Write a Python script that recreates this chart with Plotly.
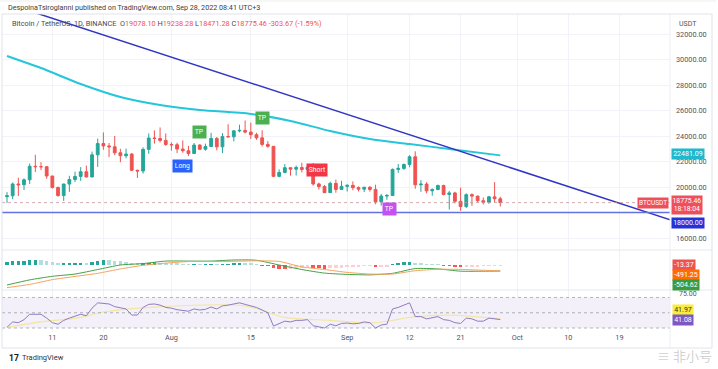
import plotly.graph_objects as go
import pandas as pd

# ---------------- data ----------------
dates = pd.date_range("2022-07-03", "2022-09-28", freq="D")

opens = [19243, 19315, 20236, 20175, 20564, 21624, 21594, 21591, 20862, 19963,
         19328, 20234, 20588, 20830, 21196, 20785, 22525, 23410, 23223, 23155,
         22684, 22451, 22580, 21310, 21254, 22952, 23843, 23804, 23656,
         23336, 23314, 22978, 22846, 22630, 23290, 22961, 23175, 23810, 23149,
         23954, 23934, 24403, 24441, 24305, 24101, 23854, 23342, 23191, 20834,
         21140, 21515, 21399, 21529, 21368, 21560, 20241, 20037, 19555, 20285, 19811,
         20050, 20131, 19951, 19832, 19986, 19812, 18837, 19290, 19329, 21381,
         21460, 21769, 22371, 20173, 20226, 19701, 19803, 20113, 19417, 19537,
         18876, 18461, 19401, 19289, 18920, 18807, 19227, 19078.10]
highs = [19600, 20350, 20730, 20675, 21840, 22530, 21950, 21600, 20870, 20040,
         20250, 20880, 21200, 21560, 21680, 22780, 23800, 24280, 23450, 24000,
         22990, 23010, 22670, 21360, 23110, 24200, 24440, 24670, 24200,
         23500, 23470, 23650, 23230, 23450, 23360, 23400, 24250, 23920, 24230,
         24920, 24450, 24890, 25210, 25050, 24250, 24450, 23600, 23200, 21380,
         21800, 21520, 21680, 21900, 21820, 21880, 20340, 20150, 20420, 20580, 20490,
         20200, 20440, 20050, 20000, 20060, 20180, 19460, 19450, 21450, 21800,
         21840, 22490, 22800, 20540, 20380, 19890, 20190, 20180, 19690, 19630,
         19950, 19500, 19500, 19310, 19180, 19310, 20380, 19238.28]
lows = [18750, 19040, 19300, 19760, 20240, 21180, 21320, 20650, 19880, 19240,
        18910, 19620, 20380, 20480, 20760, 20770, 21580, 22920, 22340, 22500,
        21940, 22250, 21250, 20710, 21050, 22600, 23400, 23500, 23230,
        22850, 22670, 22690, 22430, 22590, 22900, 22850, 23150, 22880, 22660,
        23900, 23580, 24290, 24200, 23770, 23700, 23180, 23080, 20780, 20760,
        21070, 20890, 20900, 21150, 21310, 20100, 19800, 19600, 19550, 19550, 19800,
        19650, 19750, 19650, 19600, 19640, 18650, 18540, 19000, 19300, 21110,
        21350, 21550, 19860, 19620, 19500, 19320, 19750, 19350, 18230, 18710,
        18130, 18360, 18530, 18800, 18630, 18680, 18810, 18471.28]
closes = [19315, 20236, 20175, 20564, 21624, 21594, 21591, 20862, 19963, 19328,
          20234, 20588, 20830, 21196, 20785, 22525, 23410, 23223, 23155, 22684,
          22451, 22580, 21310, 21254, 22952, 23843, 23804, 23656, 23336,
          23314, 22978, 22846, 22630, 23290, 22961, 23175, 23810, 23149, 23954,
          23934, 24403, 24441, 24305, 24101, 23854, 23342, 23191, 20834, 21140,
          21515, 21399, 21529, 21368, 21560, 20241, 20037, 19555, 20285, 19811, 20050,
          20131, 19951, 19832, 19986, 19812, 18837, 19290, 19329, 21381, 21460,
          21769, 22371, 20173, 20226, 19701, 19803, 20113, 19417, 19537, 18876,
          18461, 19401, 19289, 18920, 18807, 19227, 19078.10, 18775.46]

# moving average (teal) – read at sample days
ma_idx = [0, 6, 13, 20, 27, 34, 43, 50, 57, 64, 71, 78, 87]
ma_val = [30270, 29330, 28080, 27060, 26430, 26040, 25730, 25180, 24390, 23760, 23370, 22980, 22481.09]

# drawn trend line (two anchor points)
trend_dates = ["2022-07-03", "2022-10-28"]
trend_vals = [34390, 17423]

hline_level = 18000.00
last_price = 18775.46

# MACD
macd_hist = [250, 300, 320, 340, 390, 420, 400, 330, 240, 150,
             160, 180, 190, 210, 180, 260, 350, 390, 380, 370,
             330, 290, 200, 130, 150, 200, 220, 200, 170, 140,
             100, 70, 40, 45, 30, 30, 50, 40, 60, 80,
             110, 130, 120, 90, 50, -20, -60, -220, -300, -320,
             -300, -260, -220, -180, -230, -270, -300, -280, -250, -210,
             -170, -140, -110, -80, -70, -130, -120, -90, 60, 150,
             230, 290, 180, 120, 70, 40, 30, -10, -60, -110,
             -150, -120, -100, -90, -80, -50, -30, -13.37]
macd_idx = [0, 4, 8, 12, 16, 20, 24, 28, 32, 36, 40, 44, 48, 52, 56, 60, 64, 68, 72, 76, 80, 84, 87]
macd_line = [-1680, -1250, -950, -760, -380, 0, 120, 330, 330, 330, 420, 400, 0, -380, -680, -790, -830, -700, -300, -330, -520, -520, -504.62]
signal_line = [-1900, -1630, -1230, -960, -700, -330, -30, 160, 290, 290, 310, 350, 300, -160, -380, -620, -760, -760, -480, -360, -370, -440, -491.25]

# RSI
rsi_vals = [31, 38, 37, 41, 48, 48, 48, 43, 37, 35,
            40, 43, 45, 48, 46, 56, 63, 62, 61.5, 58,
            56, 55, 47, 47, 57, 61, 61.5, 60, 57, 56,
            54, 53, 52, 55, 53.6, 54.5, 57.5, 55, 59, 60,
            62, 63, 61, 59, 57, 53.6, 50, 32.6, 36, 39,
            38, 40, 40, 41, 33, 31, 30, 35, 33, 36,
            36.5, 35.5, 36, 38, 37, 30, 34, 35, 55, 57,
            60, 63, 45, 45, 42, 44, 45, 41, 40, 37,
            36, 43, 42, 39, 39, 43, 42, 41.08]
rsi_ma_idx = [0, 6, 13, 17, 26, 42, 49, 57, 64, 68, 71, 78, 87]
rsi_ma_vals = [31, 38, 44, 51, 57.5, 59, 44, 40, 36.5, 40, 44, 47, 41.97]

# signal badges
sig_dates = ["2022-08-03", "2022-08-06", "2022-08-17", "2022-08-26 18:00", "2022-09-08 12:00"]
sig_prices = [21650, 24314, 25412, 21333, 18275]
sig_text = ["Long", "TP", "TP", "Short", "TP"]
sig_color = ["#2962ff", "#4caf50", "#4caf50", "#f23645", "#c451f2"]

x_tick_dates = ["2022-07-11", "2022-07-20", "2022-08-01", "2022-08-15", "2022-09-01",
                "2022-09-12", "2022-09-21", "2022-10-01", "2022-10-10", "2022-10-19"]
x_tick_text = ["11", "20", "Aug", "15", "Sep", "12", "21", "Oct", "10", "19"]
y_ticks = [16000, 20000, 22000, 24000, 26000, 28000, 30000, 32000]

# ---------------- layout geometry ----------------
W, H = 718, 369
L, R, T, B = 2, 48, 14, 37
PW, PH = W - L - R, H - T - B


def pxx(x):
    return (x - L) / PW


def pxy(y):
    return (H - B - y) / PH


main_dom = [pxy(250), 1]
macd_dom = [pxy(290), pxy(250)]
rsi_dom = [0, pxy(290)]

x0 = dates[0] - pd.Timedelta(hours=0.88 * 24)
x1 = dates[0] + pd.Timedelta(hours=116.93 * 24)

FONT = "Roboto, Liberation Sans, Arial"
GRID = "#f1f3f8"
AXC = "#50535e"

fig = go.Figure()

# candles
fig.add_trace(go.Candlestick(
    x=dates, open=opens, high=highs, low=lows, close=closes,
    increasing=dict(line=dict(color="#26a69a", width=1), fillcolor="#26a69a"),
    decreasing=dict(line=dict(color="#ef5350", width=1), fillcolor="#ef5350"),
    whiskerwidth=0, showlegend=False, hoverinfo="skip", xaxis="x", yaxis="y"))

# moving average
fig.add_trace(go.Scatter(
    x=[dates[i] for i in ma_idx], y=ma_val, mode="lines",
    line=dict(color="#26c6da", width=2, shape="spline", smoothing=0.8),
    showlegend=False, hoverinfo="skip", xaxis="x", yaxis="y"))

# trend line
fig.add_trace(go.Scatter(
    x=trend_dates, y=trend_vals, mode="lines",
    line=dict(color="#3035c4", width=1.5),
    showlegend=False, hoverinfo="skip", xaxis="x", yaxis="y"))

# MACD histogram colours
hist_colors = []
for i, v in enumerate(macd_hist):
    prev = macd_hist[i - 1] if i > 0 else v
    if v >= 0:
        hist_colors.append("#26a69a" if v >= prev else "#b2dfdb")
    else:
        hist_colors.append("#ffcdd2" if v >= prev else "#ff5252")

fig.add_trace(go.Bar(
    x=dates, y=macd_hist, marker=dict(color=hist_colors, line=dict(width=0)),
    width=0.62 * 86400000, showlegend=False, hoverinfo="skip", xaxis="x", yaxis="y2"))
fig.add_trace(go.Scatter(
    x=[dates[i] for i in macd_idx], y=macd_line, mode="lines",
    line=dict(color="#43a047", width=1, shape="spline", smoothing=0.6),
    showlegend=False, hoverinfo="skip", xaxis="x", yaxis="y2"))
fig.add_trace(go.Scatter(
    x=[dates[i] for i in macd_idx], y=signal_line, mode="lines",
    line=dict(color="#f5a35c", width=1, shape="spline", smoothing=0.6),
    showlegend=False, hoverinfo="skip", xaxis="x", yaxis="y2"))

# RSI
fig.add_trace(go.Scatter(
    x=[dates[i] for i in rsi_ma_idx], y=rsi_ma_vals, mode="lines",
    line=dict(color="#f3e6a0", width=1.2, shape="spline", smoothing=0.8),
    showlegend=False, hoverinfo="skip", xaxis="x", yaxis="y3"))
fig.add_trace(go.Scatter(
    x=dates, y=rsi_vals, mode="lines",
    line=dict(color="#8e7cc3", width=1),
    showlegend=False, hoverinfo="skip", xaxis="x", yaxis="y3"))

shapes = []
# RSI band
shapes.append(dict(type="rect", xref="x domain", yref="y3", x0=0, x1=1, y0=30, y1=70,
                   fillcolor="rgba(126,87,194,0.09)", line=dict(width=0), layer="below"))
for lv in [30, 50, 70]:
    shapes.append(dict(type="line", xref="x domain", yref="y3", x0=0, x1=1, y0=lv, y1=lv,
                       line=dict(color="rgba(120,123,134,0.55)", width=1, dash="3px,3px")))
# horizontal 18000 line
shapes.append(dict(type="line", xref="x domain", yref="y", x0=0, x1=1, y0=hline_level, y1=hline_level,
                   line=dict(color="#6472de", width=1.3)))
# last price line
shapes.append(dict(type="line", xref="x domain", yref="y", x0=0, x1=1, y0=last_price, y1=last_price,
                   line=dict(color="rgba(200,150,155,0.8)", width=1, dash="dot")))
# pane separators
for yy in [250, 290]:
    shapes.append(dict(type="line", xref="paper", yref="paper", x0=0, x1=pxx(712), y0=pxy(yy), y1=pxy(yy),
                       line=dict(color="#e6e8ee", width=1)))
# price-scale border
shapes.append(dict(type="line", xref="paper", yref="paper", x0=1, x1=1, y0=pxy(348), y1=pxy(14),
                   line=dict(color="#eceef3", width=1)))
# outer frame
shapes.append(dict(type="rect", xref="paper", yref="paper", x0=pxx(2), x1=pxx(712), y0=pxy(348), y1=pxy(14),
                   line=dict(color="#e0e3eb", width=1)))
shapes.append(dict(type="line", xref="paper", yref="paper", x0=pxx(0), x1=pxx(716), y0=pxy(1), y1=pxy(1),
                   line=dict(color="#eeeeee", width=1)))

ann = []
# header
ann.append(dict(text="DespoinaTsiroglanni published on TradingView.com, Sep 28, 2022 08:41 UTC+3",
                xref="paper", yref="paper", x=pxx(6), y=pxy(7.5), xanchor="left", yanchor="middle",
                showarrow=False, font=dict(size=7.2, color="#3c3c3c", family=FONT)))
red = "#ef5350"
legend_txt = ("Bitcoin / TetherUS, 1D, BINANCE  "
              f"O<span style='color:{red}'>19078.10</span> "
              f"H<span style='color:{red}'>19238.28</span> "
              f"L<span style='color:{red}'>18471.28</span> "
              f"C<span style='color:{red}'>18775.46</span> "
              f"<span style='color:{red}'>-303.67 (-1.59%)</span>")
ann.append(dict(text=legend_txt, xref="paper", yref="paper", x=pxx(10), y=pxy(23.5),
                xanchor="left", yanchor="middle", showarrow=False,
                font=dict(size=7.3, color="#4a4a4a", family=FONT)))
ann.append(dict(text="USDT", xref="paper", yref="paper", x=pxx(677), y=pxy(24), xanchor="left",
                yanchor="middle", showarrow=False, font=dict(size=7, color=AXC, family=FONT)))

# signal badges
for d, p, t, c in zip(sig_dates, sig_prices, sig_text, sig_color):
    ann.append(dict(text=t, x=d, y=p, xref="x", yref="y", showarrow=False, bgcolor=c,
                    borderpad=1.8, font=dict(size=6.8, color="white", family=FONT)))

# price-scale labels
lab_font = dict(size=7, color="white", family=FONT)
ann.append(dict(text="22481.09", xref="paper", yref="y", x=pxx(671), y=ma_val[-1], xanchor="left",
                yanchor="middle", yshift=1.5, showarrow=False, bgcolor="#1fb8cd", borderpad=1.2,
                font=lab_font))
ann.append(dict(text="18775.46<br>18:18:04", xref="paper", yref="paper", x=pxx(671), y=pxy(205),
                xanchor="left", yanchor="middle", showarrow=False, bgcolor="#ef4f5b", borderpad=0.5,
                font=dict(size=6.8, color="white", family=FONT)))
ann.append(dict(text="BTCUSDT", xref="paper", yref="paper", x=pxx(669), y=pxy(203), xanchor="right",
                yanchor="middle", showarrow=False, bgcolor="#ef4f5b", borderpad=1,
                font=dict(size=6.5, color="white", family=FONT)))
ann.append(dict(text="18000.00", xref="paper", yref="paper", x=pxx(671), y=pxy(222.5), xanchor="left",
                yanchor="middle", showarrow=False, bgcolor="#2433d6", borderpad=1.2, font=lab_font))
ann.append(dict(text="75.00", xref="paper", yref="paper", x=pxx(677), y=pxy(294), xanchor="left",
                yanchor="middle", showarrow=False, font=dict(size=7, color=AXC, family=FONT)))
for txt, yy, bg, fc in [("-13.37", 264.5, "#ef5350", "white"), ("-491.25", 275, "#ff6d00", "white"),
                        ("-504.62", 285, "#3c9a3f", "white"), ("41.97", 310, "#f9ec3a", "#333333"),
                        ("41.08", 319.7, "#7e57c2", "white")]:
    ann.append(dict(text=txt, xref="paper", yref="paper", x=pxx(672), y=pxy(yy), xanchor="left",
                    yanchor="middle", showarrow=False, bgcolor=bg, borderpad=1.2,
                    font=dict(size=7, color=fc, family=FONT)))

# footer
ann.append(dict(text="<b>17</b>", xref="paper", yref="paper", x=pxx(7), y=pxy(357.5), xanchor="left",
                yanchor="middle", showarrow=False, font=dict(size=8.5, color="#131722", family=FONT)))
ann.append(dict(text="TradingView", xref="paper", yref="paper", x=pxx(20), y=pxy(357.5), xanchor="left",
                yanchor="middle", showarrow=False, font=dict(size=7.5, color="#333333", family=FONT)))
ann.append(dict(text="≡ 非小号", xref="paper", yref="paper", x=pxx(714), y=pxy(355), xanchor="right",
                yanchor="middle", showarrow=False,
                font=dict(size=13, color="rgba(170,170,170,0.55)", family="Noto Sans CJK SC")))

fig.update_layout(
    width=W, height=H, margin=dict(l=L, r=R, t=T, b=B),
    paper_bgcolor="white", plot_bgcolor="white", showlegend=False, bargap=0,
    font=dict(family=FONT, size=7, color=AXC),
    xaxis=dict(type="date", range=[x0, x1], domain=[0, 1], anchor="y3",
               tickvals=x_tick_dates, ticktext=x_tick_text, showgrid=True, gridcolor=GRID,
               zeroline=False, showline=False, ticks="", tickfont=dict(size=7.3, color=AXC),
               rangeslider=dict(visible=False), fixedrange=True),
    yaxis=dict(domain=main_dom, range=[15059, 33569], side="right", anchor="x",
               tickvals=y_ticks, ticktext=[f"{v:.2f}" for v in y_ticks],
               showgrid=True, gridcolor=GRID, zeroline=False, showline=False, ticks="",
               tickfont=dict(size=7.3, color=AXC), ticklabelstandoff=5),
    yaxis2=dict(domain=macd_dom, range=[-2100, 1260], side="right", anchor="x",
                showticklabels=False, showgrid=False, zeroline=False, showline=False),
    yaxis3=dict(domain=rsi_dom, range=[24.8, 79.8], side="right", anchor="x",
                showticklabels=False, showgrid=False, zeroline=False, showline=False),
    shapes=shapes, annotations=ann,
)

fig.write_html("out.html", config={"displayModeBar": False},
               post_script="document.body.style.margin='0';document.body.style.overflow='hidden';")
